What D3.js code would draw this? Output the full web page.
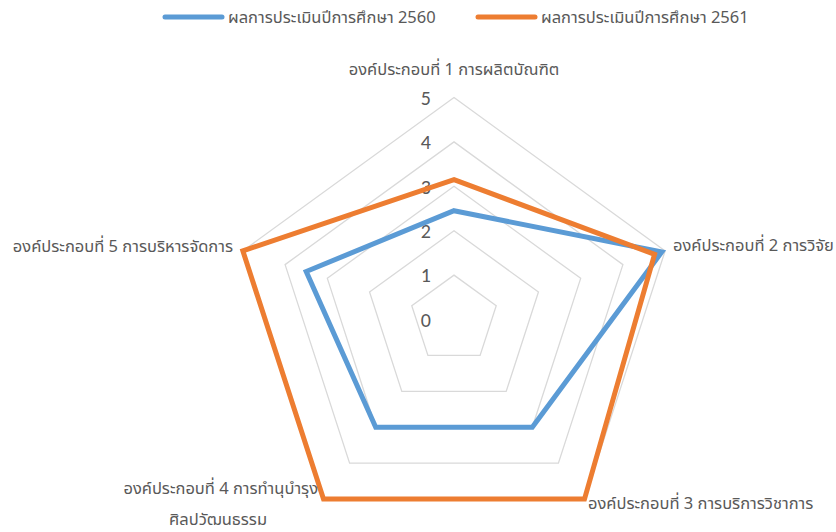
<!DOCTYPE html>
<html lang="th">
<head>
<meta charset="UTF-8">
<title>Radar</title>
<script src="https://d3js.org/d3.v7.min.js"></script>
<style>
  body { margin: 0; background: #fff; }
  text { font-family: "Noto Sans Thai", "Noto Sans", "DejaVu Sans", sans-serif; fill: #595959; }
</style>
</head>
<body>
<svg id="chart" width="836" height="532"></svg>
<script>
// categories (axis labels, already split into lines as in the picture)
const categories = [
  ["องค์ประกอบที่ 1 การผลิตบัณฑิต"],
  ["องค์ประกอบที่ 2 การวิจัย"],
  ["องค์ประกอบที่ 3 การบริการวิชาการ"],
  ["องค์ประกอบที่ 4 การทำนุบำรุง", "ศิลปวัฒนธรรม"],
  ["องค์ประกอบที่ 5 การบริหารจัดการ"]
];
const seriesNames = ["ผลการประเมินปีการศึกษา 2560", "ผลการประเมินปีการศึกษา 2561"];
const values2560 = [2.45, 4.92, 3, 3, 3.5];
const values2561 = [3.15, 4.75, 5, 5, 5];
const tickValues = [0, 1, 2, 3, 4, 5];
const colors = ["#5B9BD5", "#ED7D31"];

const svg = d3.select("#chart");
const cx = 454, cy = 319.5, R = 222;

const rScale = d3.scaleLinear().domain([0, 5]).range([0, R]);
const angle = d3.scaleLinear().domain([0, categories.length]).range([0, 2 * Math.PI]);

function pt(i, v) {
  const a = angle(i);
  return [cx + rScale(v) * Math.sin(a), cy - rScale(v) * Math.cos(a)];
}

// grid pentagons
const grid = svg.append("g");
tickValues.filter(t => t > 0).forEach(t => {
  grid.append("polygon")
    .attr("points", categories.map((c, i) => pt(i, t).join(",")).join(" "))
    .attr("fill", "none")
    .attr("stroke", "#D9D9D9")
    .attr("stroke-width", 1.3);
});

// tick labels
svg.append("g").selectAll("text")
  .data(tickValues)
  .join("text")
  .attr("x", cx - 23)
  .attr("y", d => cy - rScale(d))
  .attr("dy", "0.36em")
  .attr("text-anchor", "end")
  .style("font-family", "Calibri, Carlito, 'Liberation Sans', sans-serif")
  .style("font-size", "20px")
  .text(d => d);

// series
const line = d3.line().curve(d3.curveLinearClosed);
[values2560, values2561].forEach((vals, s) => {
  svg.append("path")
    .attr("d", line(vals.map((v, i) => pt(i, v))))
    .attr("fill", "none")
    .attr("stroke", colors[s])
    .attr("stroke-width", 5)
    .attr("stroke-linejoin", "miter");
});

// axis labels
const labelPos = [
  { x: cx, y: 69, anchor: "middle" },
  { x: 673, y: 245, anchor: "start" },
  { x: 588, y: 503, anchor: "start" },
  { x: 318, y: 488, anchor: "end" },
  { x: 233, y: 246, anchor: "end" }
];
categories.forEach((lines, i) => {
  const p = labelPos[i];
  svg.append("text")
    .attr("x", p.x)
    .attr("y", p.y)
    .attr("dy", "0.35em")
    .attr("text-anchor", p.anchor)
    .style("font-size", "16.5px")
    .text(lines[0]);
  if (lines.length > 1) {
    svg.append("text")
      .attr("x", 218)
      .attr("y", p.y + 31)
      .attr("dy", "0.35em")
      .attr("text-anchor", "middle")
      .style("font-size", "16.5px")
      .text(lines[1]);
  }
});

// legend
const legendX = [165, 478];
seriesNames.forEach((name, s) => {
  const g = svg.append("g").attr("transform", `translate(${legendX[s]},17)`);
  g.append("line")
    .attr("x1", 0).attr("x2", 57)
    .attr("stroke", colors[s])
    .attr("stroke-width", 5)
    .attr("stroke-linecap", "round");
  g.append("text")
    .attr("x", 63)
    .attr("dy", "0.35em")
    .style("font-size", "16.5px")
    .text(name);
});
</script>
</body>
</html>
